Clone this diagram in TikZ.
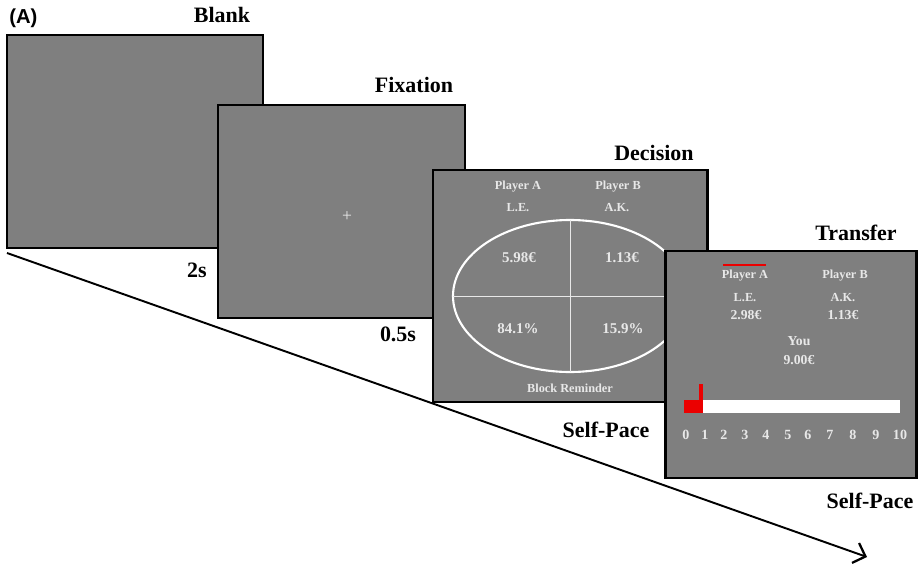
\documentclass[tikz,border=0pt]{standalone}
\usepackage{fontspec}
\setmainfont{Liberation Serif}
\newfontfamily\panelfont{Liberation Sans}
\usetikzlibrary{arrows.meta}

\definecolor{screengray}{RGB}{127,127,127}
\definecolor{screentext}{RGB}{232,232,232}
\definecolor{markred}{RGB}{235,0,0}

\tikzset{
  screen/.style={draw=black, line width=1.7pt, fill=screengray},
  title/.style={anchor=base, inner sep=0pt, font=\bfseries\fontsize{12.5}{14}\selectfont},
  onscreen/.style={anchor=base, inner sep=0pt, text=screentext, font=\bfseries\fontsize{7}{8}\selectfont},
  bigscreen/.style={onscreen, font=\bfseries\fontsize{8.5}{9}\selectfont},
  midscreen/.style={onscreen, font=\bfseries\fontsize{7.8}{9}\selectfont},
}

\begin{document}
\begin{tikzpicture}[x=0.2mm, y=-0.2mm]
    \useasboundingbox (0,0) rectangle (919,565);

    % Time line
    \coordinate (tstart) at (7,253);
    \coordinate (tend) at (867,557);
    \draw[line width=1.1pt, -{Straight Barb[length=6pt,width=12pt,line width=1.3pt]}] (tstart) -- (tend);

    \node[anchor=base west, inner sep=0pt, font=\panelfont\bfseries\fontsize{11.5}{13}\selectfont] (panel) at (9,24) {(A)};

    % Blank
    \draw[screen] (7,35) rectangle (263,248);
    \node[title] (blank) at (222,23) {Blank};
    \node[title] (t1) at (197,277) {2s};

    % Fixation
    \draw[screen] (218,105) rectangle (465,318);
    \node[title] (fixation) at (414,92) {Fixation};
    \node[anchor=center, inner sep=0pt, text=screentext, font=\fontsize{10}{10}\selectfont] (cross) at (347,217) {+};
    \node[title] (t2) at (398,341) {0.5s};

    % Decision
    \draw[screen] (433,170) rectangle (707,402);
    \node[title] (decision) at (654,160) {Decision};
    \draw[white, line width=1.2pt] (570,296) ellipse (117 and 76);
    \draw[screentext, line width=0.5pt] (570,220) -- (570,372);
    \draw[screentext, line width=0.5pt] (453,296) -- (687,296);
    \node[onscreen] (dA) at (518,189) {Player A};
    \node[onscreen] (dB) at (618,189) {Player B};
    \node[onscreen] (dAname) at (518,211) {L.E.};
    \node[onscreen] (dBname) at (617,211) {A.K.};
    \node[bigscreen] (dAmoney) at (519,262) {5.98€};
    \node[bigscreen] (dBmoney) at (622,262) {1.13€};
    \node[bigscreen] (dAprob) at (518,333) {84.1\%};
    \node[bigscreen] (dBprob) at (623,333) {15.9\%};
    \node[onscreen] (reminder) at (570,392) {Block Reminder};
    \node[title] (t3) at (606,437) {Self-Pace};

    % Transfer
    \draw[screen] (665,251) rectangle (916,478);
    \node[title] (transfer) at (856,240) {Transfer};
    \node[onscreen] (tA) at (745,278) {Player A};
    \draw[markred, line width=1.2pt] (723,265) -- (766,265);
    \node[onscreen] (tB) at (845,278) {Player B};
    \node[onscreen] (tAname) at (745,301) {L.E.};
    \node[onscreen] (tBname) at (843,301) {A.K.};
    \node[midscreen] (tAmoney) at (746,319) {2.98€};
    \node[midscreen] (tBmoney) at (843,319) {1.13€};
    \node[midscreen] (you) at (799,345) {You};
    \node[midscreen] (youmoney) at (799,364) {9.00€};
    \fill[white] (703,400) rectangle (900,413);
    \fill[markred] (684,400) rectangle (703,413);
    \fill[markred] (699,384) rectangle (703,400);
    \foreach \n/\x in {0/686,1/705,2/724,3/745,4/766,5/788,6/808,7/830,8/853,9/876,10/900}
        \node[onscreen, font=\bfseries\fontsize{8}{9}\selectfont] (tick\n) at (\x,439) {\n};
    \node[title] (t4) at (870,508) {Self-Pace};
\end{tikzpicture}
\end{document}
